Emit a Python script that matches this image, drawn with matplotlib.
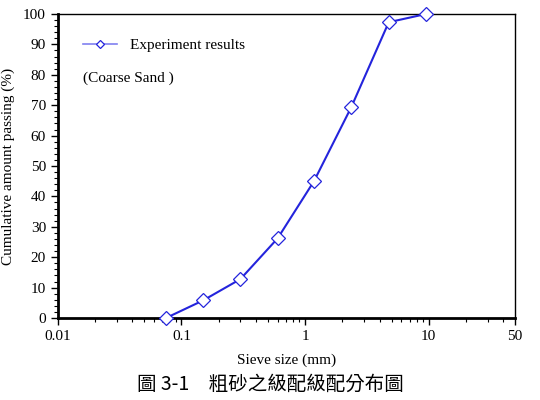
import matplotlib
matplotlib.use('Agg')
import matplotlib.pyplot as plt
from matplotlib.ticker import MultipleLocator, FixedLocator, LogLocator, NullFormatter

# sieve sizes (mm) and cumulative passing (%)
sieve_mm = [0.075, 0.15, 0.3, 0.6, 1.18, 2.36, 4.75, 9.5]
passing = [0, 5.8, 12.8, 26.2, 45, 69.3, 97.3, 100]

x_ticks = [0.01, 0.1, 1, 10, 50]
x_labels = ['0.01', '0.1', '1', '10', '50']

plt.rcParams['font.family'] = ['Liberation Serif', 'DejaVu Serif']

fig = plt.figure(figsize=(5.4, 4.0), dpi=100)
ax = fig.add_axes([0.107, 0.205, 0.847, 0.76])

line_color = '#2424dc'
ax.plot(sieve_mm, passing, color=line_color, lw=1.5, marker='D', markersize=7,
        markerfacecolor='white', markeredgecolor=line_color, markeredgewidth=0.9,
        label='Experiment results', clip_on=False, zorder=3)

ax.set_xscale('log')
ax.set_xlim(0.01, 50)
ax.set_ylim(0, 100)
ax.xaxis.set_major_locator(FixedLocator(x_ticks))
ax.set_xticklabels(x_labels)
ax.xaxis.set_minor_locator(LogLocator(base=10, subs=range(2, 10)))
ax.xaxis.set_minor_formatter(NullFormatter())
ax.yaxis.set_major_locator(MultipleLocator(10))
ax.yaxis.set_minor_locator(MultipleLocator(2))

ax.tick_params(which='major', direction='out', length=5, width=1, labelsize=11, colors='black')
ax.tick_params(which='minor', direction='out', length=3, width=0.8)

for side in ['left', 'bottom']:
    ax.spines[side].set_linewidth(2)
for side in ['top', 'right']:
    ax.spines[side].set_linewidth(1)

ax.set_xlabel('Sieve size (mm)', fontsize=11, labelpad=8)
ax.set_ylabel('Cumulative amount passing (%)', fontsize=11, labelpad=6)

leg = ax.legend(loc='upper left', bbox_to_anchor=(0.025, 0.965), frameon=False, fontsize=11,
                handlelength=2.2, handletextpad=0.9, markerscale=0.6)
for h in leg.get_lines():
    h.set_color('#8080f0')
    h.set_linewidth(1.2)
ax.text(0.055, 0.79, '(Coarse Sand )', transform=ax.transAxes, fontsize=11, va='center')

fig.text(0.5, 0.04, '圖 3-1　粗砂之級配級配分布圖', ha='center', va='center', fontsize=14,
         family=['Noto Sans CJK TC', 'DejaVu Sans'])

fig.savefig('out.png', dpi=100)
